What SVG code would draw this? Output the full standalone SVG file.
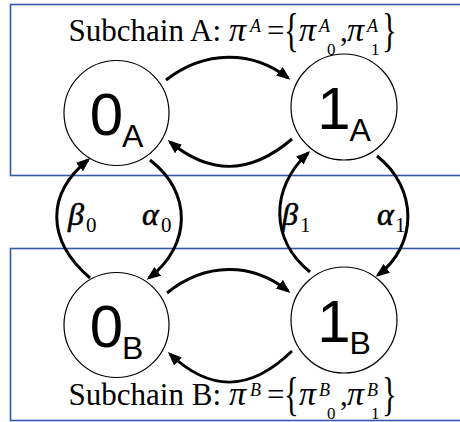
<svg xmlns="http://www.w3.org/2000/svg" width="460" height="422" viewBox="0 0 460 422">
<defs>
<marker id="ah" markerUnits="userSpaceOnUse" markerWidth="15" markerHeight="12" refX="11" refY="5.5" orient="auto">
<path d="M0,0 L14,5.5 L0,11 z" fill="#000"/>
</marker>
<style>
.box{fill:none;stroke:#3558A8;stroke-width:1.6}
.node circle{fill:#fff;stroke:#000;stroke-width:1.2}
.lab{font-family:"Liberation Sans",Arial,sans-serif;fill:#000}
.conn path{fill:none;stroke:#000;stroke-width:3;marker-end:url(#ah)}
.t{font-family:"Liberation Serif","Times New Roman",serif;fill:#000}
.it{font-style:italic}
.gr{font-style:italic;stroke:#000;stroke-width:0.6}
</style>
</defs>
<rect class="box" x="10.5" y="4.5" width="470" height="171"/>
<rect class="box" x="10.5" y="248.5" width="470" height="172"/>

<g id="connectors" class="conn">
<path d="M166,80 C205,50 252,50 288,78"/>
<path d="M292,139 C250,175 210,175 170,142"/>
<path d="M167,293 C205,262 252,262 288,291"/>
<path d="M292,351 C250,392 210,392 170,354"/>
<path d="M90,278 C46,240 46,194 88,160"/>
<path d="M150,160 C192,192 192,245 149,278"/>
<path d="M310,272 C270,240 270,188 308,153"/>
<path d="M377,156 C418,188 418,245 378,275"/>
</g>

<g id="node-0A" class="node"><circle cx="116.5" cy="113" r="52.5"/>
<text class="lab" x="116.5" y="135" text-anchor="middle" font-size="60">0<tspan font-size="32" dy="12" dx="-1">A</tspan></text></g>
<g id="node-1A" class="node"><circle cx="344" cy="107" r="53"/>
<text class="lab" x="344" y="129" text-anchor="middle" font-size="60">1<tspan font-size="32" dy="12" dx="-1">A</tspan></text></g>
<g id="node-0B" class="node"><circle cx="116.5" cy="325" r="52.5"/>
<text class="lab" x="116.5" y="347" text-anchor="middle" font-size="60">0<tspan font-size="32" dy="12" dx="-1">B</tspan></text></g>
<g id="node-1B" class="node"><circle cx="344" cy="320" r="53"/>
<text class="lab" x="344" y="342" text-anchor="middle" font-size="60">1<tspan font-size="32" dy="12" dx="-1">B</tspan></text></g>

<g id="labels" class="t">
<text x="68" y="225" font-size="32" class="gr">β</text><text x="86" y="232" font-size="21">0</text>
<text x="142" y="225" font-size="32" class="gr">α</text><text x="161" y="232" font-size="21">0</text>
<text x="282" y="225" font-size="32" class="gr">β</text><text x="300" y="232" font-size="21">1</text>
<text x="377" y="225" font-size="32" class="gr">α</text><text x="395" y="232" font-size="21">1</text>
</g>

<g id="title-A" class="t">
<text x="221" y="41" font-size="31" text-anchor="end">Subchain A:</text>
<text x="229" y="41" font-size="34" class="it">π</text>
<text x="250" y="32" font-size="18" class="it">A</text>
<text x="267" y="41" font-size="31">=</text>
<text transform="translate(284,46) scale(0.85,1.3)" font-size="36">{</text>
<text x="299" y="41" font-size="34" class="it">π</text>
<text x="319" y="32" font-size="18" class="it">A</text>
<text x="327" y="55" font-size="17">0</text>
<text x="340" y="41" font-size="31">,</text>
<text x="347" y="41" font-size="34" class="it">π</text>
<text x="367" y="32" font-size="18" class="it">A</text>
<text x="371" y="55" font-size="17">1</text>
<text transform="translate(382,46) scale(0.85,1.3)" font-size="36">}</text>
</g>

<g id="title-B" class="t">
<text x="221" y="405" font-size="31" text-anchor="end">Subchain B:</text>
<text x="229" y="405" font-size="34" class="it">π</text>
<text x="250" y="396" font-size="18" class="it">B</text>
<text x="267" y="405" font-size="31">=</text>
<text transform="translate(284,410) scale(0.85,1.3)" font-size="36">{</text>
<text x="299" y="405" font-size="34" class="it">π</text>
<text x="319" y="396" font-size="18" class="it">B</text>
<text x="327" y="419" font-size="17">0</text>
<text x="340" y="405" font-size="31">,</text>
<text x="347" y="405" font-size="34" class="it">π</text>
<text x="367" y="396" font-size="18" class="it">B</text>
<text x="371" y="419" font-size="17">1</text>
<text transform="translate(382,410) scale(0.85,1.3)" font-size="36">}</text>
</g>
</svg>
